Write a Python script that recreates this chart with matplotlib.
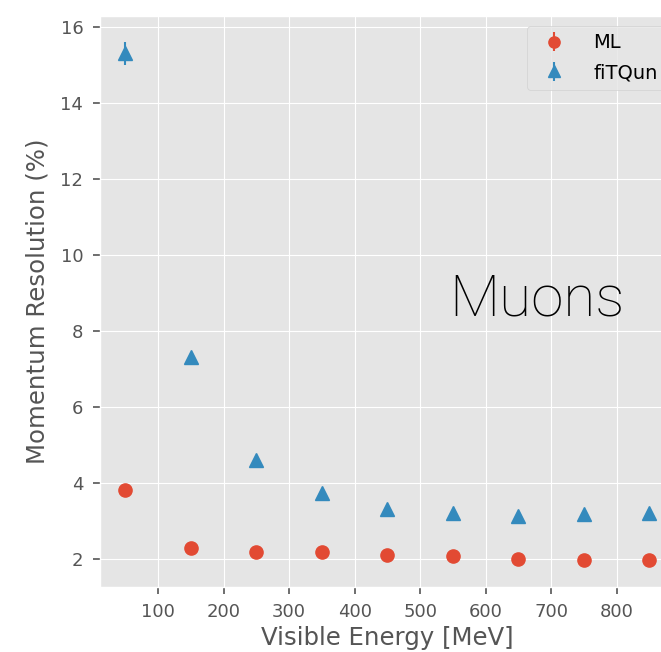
import numpy as np
import matplotlib.pyplot as plt

plt.style.use('ggplot')

# Resolución de momento para muones por intervalo de energía visible
energia = [50, 150, 250, 350, 450, 550, 650, 750, 850]
res_ml = [3.82, 2.29, 2.18, 2.18, 2.10, 2.09, 2.01, 1.97, 1.97]
err_ml = [0.05, 0.03, 0.03, 0.03, 0.03, 0.03, 0.03, 0.03, 0.03]
res_fitqun = [15.32, 7.32, 4.60, 3.74, 3.32, 3.20, 3.13, 3.19, 3.20]
err_fitqun = [0.30, 0.06, 0.05, 0.04, 0.04, 0.04, 0.04, 0.04, 0.04]

fig = plt.figure(figsize=(6.61, 6.52), dpi=100)
ax = fig.add_axes([100 / 661, 1 - 586.7 / 652, 575 / 661, (586.7 - 16) / 652])

ax.errorbar(energia, res_ml, yerr=err_ml, fmt='o', color='#E24A33',
            markersize=9.5, elinewidth=1.5, label='ML')
ax.errorbar(energia, res_fitqun, yerr=err_fitqun, fmt='^', color='#348ABD',
            markersize=9.5, elinewidth=1.5, label='fiTQun')

ax.set_xlim(11.5, 889)
ax.set_ylim(1.27, 16.30)
ax.set_xticks(np.arange(100, 900, 100))
ax.set_yticks(np.arange(2, 17, 2))
ax.tick_params(labelsize=13, colors='#555555', length=5, width=1.2, pad=7)

ax.set_xlabel('Visible Energy [MeV]', fontsize=17.6, color='#555555', labelpad=3)
ax.set_ylabel('Momentum Resolution (%)', fontsize=17.6, color='#555555', labelpad=8)

ax.text(545, 8.42, 'Muons', fontsize=42, color='black', ha='left', va='baseline',
        family=['Roboto', 'DejaVu Sans'], fontweight='light')

ax.legend(loc='upper right', fontsize=14, facecolor='#E5E5E5', borderpad=0.4,
          labelspacing=0.55, handletextpad=1.0, handlelength=2.0, markerscale=0.85)

fig.savefig('out.png', dpi=100)
